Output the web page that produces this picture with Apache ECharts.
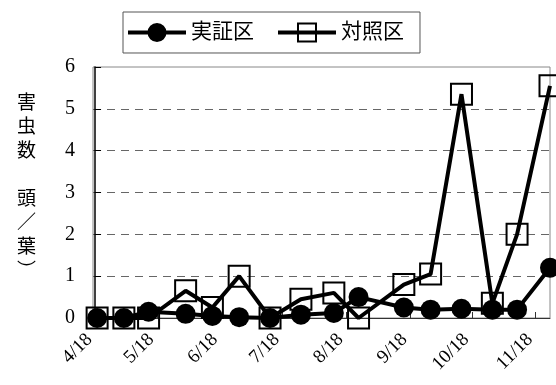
<!DOCTYPE html>
<html>
<head>
<meta charset="utf-8">
<script src="https://cdn.jsdelivr.net/npm/echarts@6/dist/echarts.min.js"></script>
<style>html,body{margin:0;padding:0;background:#fff;}#c{width:556px;height:385px;}</style>
</head>
<body>
<div id="c"></div>
<script>
const dates = ['4/19','5/2','5/14','6/1','6/14','6/27','7/12','7/27','8/12','8/24','9/15','9/28','10/13','10/28','11/9','11/25'];
const jisshou = [0, 0, 0.15, 0.1, 0.05, 0.02, 0, 0.08, 0.12, 0.5, 0.25, 0.2, 0.22, 0.2, 0.2, 1.2];
const taishou = [0, 0, 0, 0.65, 0.25, 1.0, 0, 0.45, 0.6, 0, 0.8, 1.05, 5.35, 0.35, 2.0, 5.55];
const tickLabels = ['4/18','5/18','6/18','7/18','8/18','9/18','10/18','11/18'];
const seriesNames = ['実証区','対照区'];
const yTitle = ['害','虫','数',' ','頭','／','葉','︶'];
const axisStart = '4/17';

function dayOf(s){const p=s.split('/');return Date.UTC(2001,+p[0]-1,+p[1])/86400000;}
const base = dayOf('4/18');
const off = s => dayOf(s)-base;
const tickVals = tickLabels.map(off);
const labelMap = {}; tickLabels.forEach(t=>labelMap[off(t)]=t);

// legend icons (58 x 20 box)
const iconCircle = 'path://M0,8H20V12H0Z M38,8H58V12H38Z M19.5,10A9.5,9.5 0 1,1 38.5,10A9.5,9.5 0 1,1 19.5,10Z';
const iconSquare = 'path://M0,8H19V12H0Z M39,8H58V12H39Z M19,0H39V20H19Z M21,2V18H37V2Z M21,8H37V12H21Z';

const serif = "'Liberation Serif','Noto Sans CJK JP',serif";
const chart = echarts.init(document.getElementById('c'));
chart.setOption({
  animation:false,
  backgroundColor:'#fff',
  grid:{left:93,right:6,top:67,bottom:67,show:true,borderColor:'#888',borderWidth:1,backgroundColor:'transparent'},
  legend:{
    data:[
      {name:seriesNames[0],icon:iconCircle,itemStyle:{color:'#000',borderWidth:0}},
      {name:seriesNames[1],icon:iconSquare,itemStyle:{color:'#000',borderWidth:0}}
    ],
    left:123, top:12, orient:'horizontal',
    padding:[10,16,10,5], itemGap:24, itemWidth:58, itemHeight:20,
    borderColor:'#555', borderWidth:1,
    textStyle:{fontFamily:serif,fontSize:21,color:'#000'}
  },
  graphic:[{type:'text',left:17,top:90,style:{text:yTitle.join('\n'),font:"19px 'Noto Sans CJK JP'",lineHeight:24,fill:'#000',textAlign:'center'}}],
  xAxis:{
    type:'value', min:off(axisStart), max:off(dates[dates.length-1]),
    axisLine:{lineStyle:{color:'#333',width:1}},
    axisTick:{show:true,inside:true,length:6,customValues:tickVals,lineStyle:{color:'#333'}},
    axisLabel:{customValues:tickVals,rotate:45,formatter:v=>labelMap[v]||'',fontFamily:serif,fontSize:19,color:'#000',margin:13,padding:[0,8,0,0]},
    splitLine:{show:false}
  },
  yAxis:{
    type:'value', min:0, max:6, interval:1,
    axisLine:{show:true,lineStyle:{color:'#000',width:1.5}},
    axisTick:{show:true,inside:true,length:6,lineStyle:{color:'#000'}},
    axisLabel:{fontFamily:serif,fontSize:20,color:'#000',margin:18},
    splitLine:{show:true,showMinLine:false,showMaxLine:false,lineStyle:{color:'#666',type:[8,6],width:1}}
  },
  series:[
    {name:seriesNames[1],type:'line',z:2,data:dates.map((d,i)=>[off(d),taishou[i]]),
     symbol:'rect',symbolSize:21,lineStyle:{color:'#000',width:4},
     itemStyle:{color:'rgba(255,255,255,0)',borderColor:'#000',borderWidth:2}},
    {name:seriesNames[0],type:'line',z:3,data:dates.map((d,i)=>[off(d),jisshou[i]]),
     symbol:'circle',symbolSize:20,lineStyle:{color:'#000',width:4},
     itemStyle:{color:'#000',borderColor:'#000',borderWidth:0}}
  ]
});
</script>
</body>
</html>
